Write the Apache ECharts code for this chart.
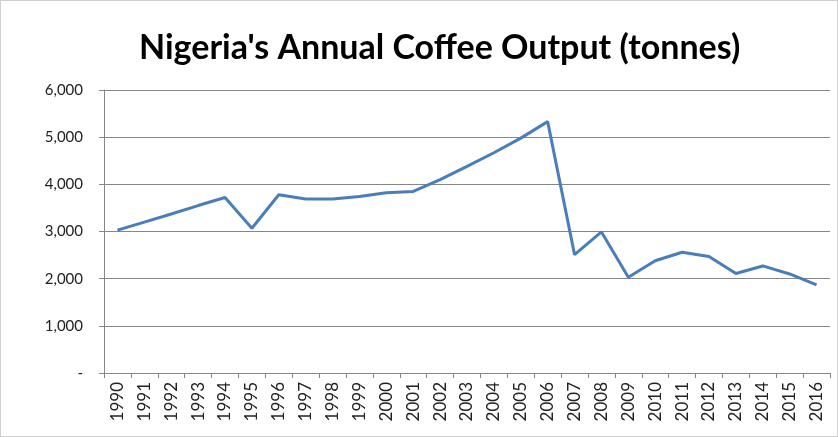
<!DOCTYPE html>
<html>
<head>
<meta charset="utf-8">
<script src="https://cdn.jsdelivr.net/npm/echarts@6/dist/echarts.min.js"></script>
<style>
  html, body { margin: 0; padding: 0; background: #fff; }
  #chart {
    width: 836px;
    height: 435px;
    border: 1px solid #d0d0d0;
  }
</style>
</head>
<body>
<div id="chart"></div>
<script>
// years on the category axis
const years = ['1990','1991','1992','1993','1994','1995','1996','1997','1998','1999',
  '2000','2001','2002','2003','2004','2005','2006','2007','2008','2009',
  '2010','2011','2012','2013','2014','2015','2016'];

// coffee output, tonnes
const output = [3030, 3200, 3370, 3550, 3720, 3070, 3780, 3690, 3690, 3740,
  3820, 3850, 4100, 4380, 4670, 4980, 5330, 2510, 2990, 2030,
  2380, 2560, 2470, 2110, 2270, 2100, 1870];

const yTicks = [0, 1000, 2000, 3000, 4000, 5000, 6000];

const chart = echarts.init(document.getElementById('chart'));
chart.setOption({
  animation: false,
  title: {
    text: "Nigeria's Annual Coffee Output (tonnes)",
    left: 133,
    top: 25,
    textStyle: {
      fontFamily: 'Lato',
      fontSize: 34,
      fontWeight: 'bold',
      color: '#000'
    }
  },
  grid: {
    left: 103,
    right: 7,
    top: 89,
    bottom: 63
  },
  xAxis: {
    type: 'category',
    data: years,
    boundaryGap: true,
    axisLine: { lineStyle: { color: '#868686', width: 1 } },
    axisTick: { show: true, alignWithLabel: false, length: 5, lineStyle: { color: '#868686' } },
    axisLabel: {
      rotate: 90,
      interval: 0,
      margin: 9,
      fontFamily: 'Lato',
      fontSize: 17,
      color: '#222'
    }
  },
  yAxis: {
    type: 'value',
    min: yTicks[0],
    max: yTicks[yTicks.length - 1],
    interval: 1000,
    axisLine: { show: true, lineStyle: { color: '#868686', width: 1 } },
    axisTick: { show: true, length: 5, lineStyle: { color: '#868686' } },
    splitLine: { lineStyle: { color: '#868686', width: 1 } },
    axisLabel: {
      margin: 21,
      fontFamily: 'Lato',
      fontSize: 15,
      color: '#222',
      formatter: v => v === 0 ? '-' : v.toLocaleString('en-US')
    }
  },
  series: [{
    type: 'line',
    data: output,
    symbol: 'none',
    lineStyle: { color: '#4a7ebb', width: 3 }
  }]
});
</script>
</body>
</html>
